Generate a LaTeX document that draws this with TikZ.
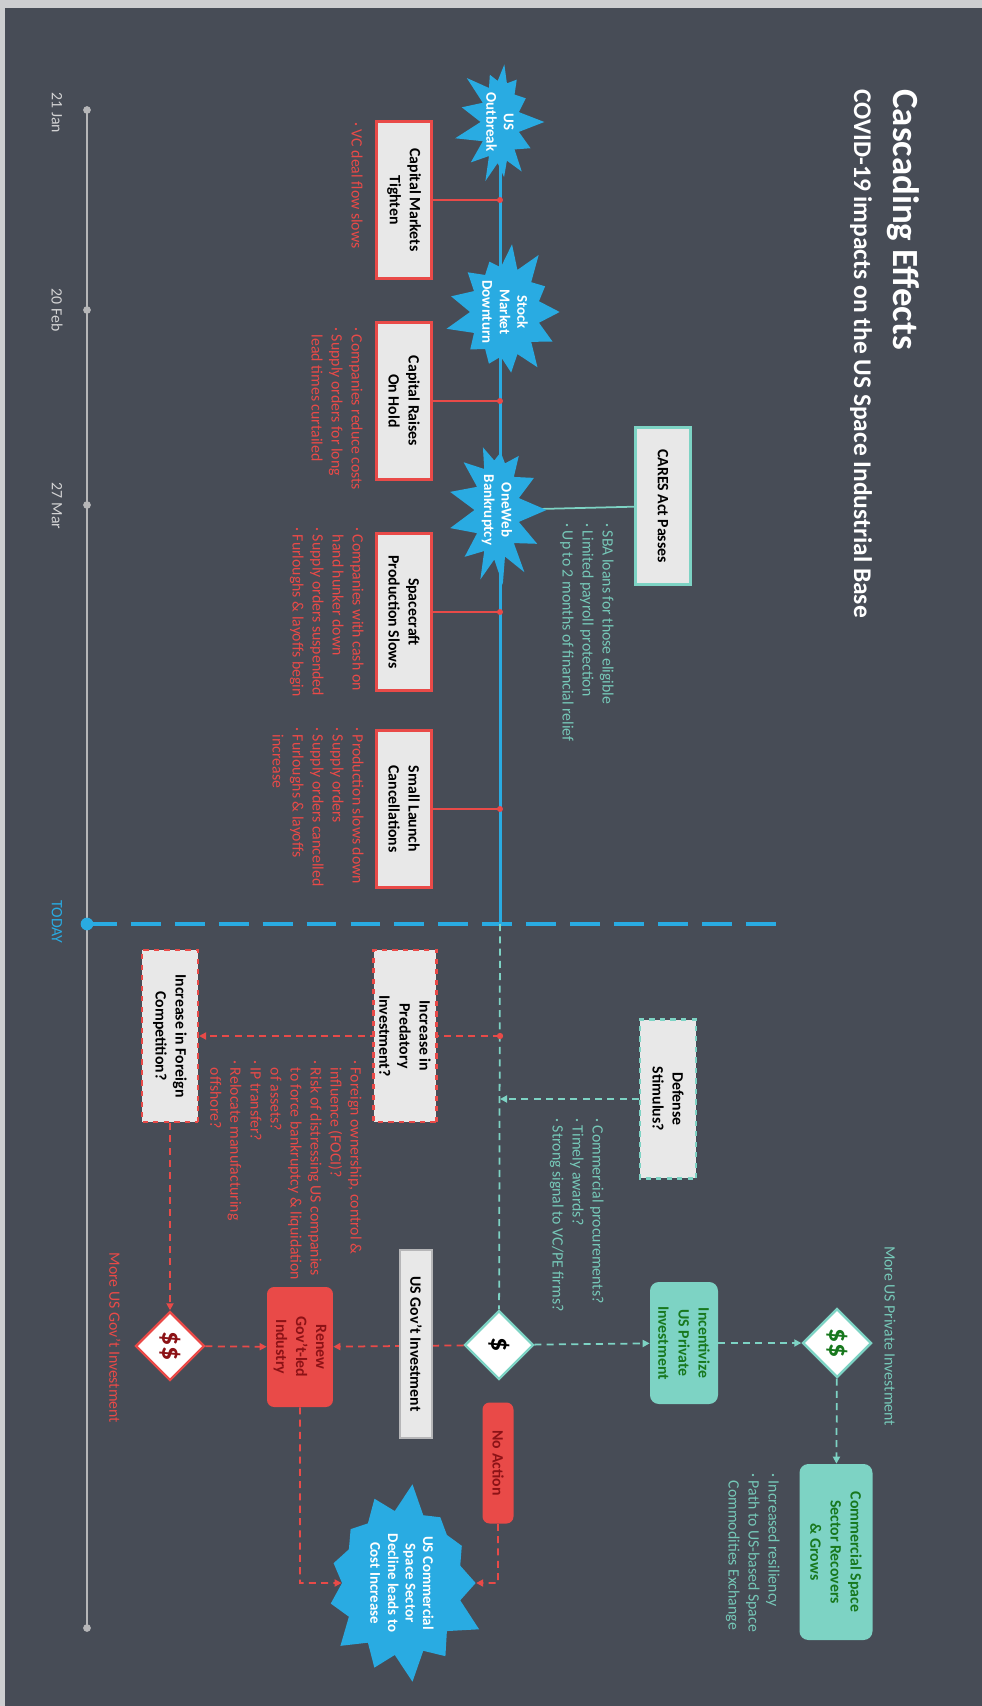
\documentclass[tikz,border=0pt]{standalone}
\usepackage{fontspec}
\setmainfont{Carlito}
\usetikzlibrary{shapes.symbols,shapes.geometric,arrows.meta,backgrounds}
\definecolor{slate}{RGB}{71,76,86}
\definecolor{edge}{RGB}{205,206,208}
\definecolor{skyblue}{RGB}{41,171,226}
\definecolor{alert}{RGB}{233,74,72}
\definecolor{mint}{RGB}{125,211,196}
\definecolor{minttext}{RGB}{118,200,184}
\definecolor{paper}{RGB}{232,232,232}
\definecolor{leaf}{RGB}{24,120,30}
\definecolor{wine}{RGB}{140,18,22}
\definecolor{rail}{RGB}{182,182,184}
\newcommand{\bul}{·\ }
\newcommand{\indt}{\phantom{·\ }}
\begin{document}
\begin{tikzpicture}
        [x=0.02cm, y=0.02cm, rotate=-90, transform shape,
        >={Triangle[length=4pt,width=4pt]},
        event/.style={starburst, fill=skyblue, draw=none, text=white, align=center, inner sep=0pt,
            starburst points=13, starburst point height=0.55cm, font=\fontsize{8.5}{10}\selectfont\bfseries},
        pastbox/.style={rectangle, draw=alert, line width=1.2pt, fill=paper, align=center,
            minimum width=3.14cm, minimum height=1.1cm, font=\fontsize{9}{11.4}\selectfont\bfseries},
        futurebox/.style={pastbox, dashed, minimum width=3.44cm, minimum height=1.12cm},
        redfill/.style={rectangle, rounded corners=4pt, fill=alert, text=wine, align=center,
            font=\fontsize{9}{11.4}\selectfont\bfseries},
        mintfill/.style={rectangle, rounded corners=5pt, fill=mint, text=leaf, align=center,
            font=\fontsize{9}{11.4}\selectfont\bfseries},
        money/.style={diamond, fill=white, line width=1.4pt, minimum size=1.38cm, inner sep=0pt,
            font=\fontsize{16}{16}\selectfont\bfseries},
        note/.style={anchor=north west, inner sep=0pt, align=left, font=\fontsize{9}{11.4}\selectfont},
        datelabel/.style={text=rail!60!white, font=\fontsize{9}{10}\selectfont},
        reddash/.style={alert, line width=1pt, dash pattern=on 4pt off 3pt},
        mintdash/.style={mint, line width=1pt, dash pattern=on 4pt off 3pt}]
        \useasboundingbox (0,0) rectangle (1706,982);

        % headline
        \node[anchor=west, inner sep=0pt, text=white, font=\fontsize{21}{25}\selectfont\bfseries] (title) at (89,903) {Cascading Effects};
        \node[anchor=west, inner sep=0pt, text=white, font=\fontsize{14.5}{17}\selectfont\bfseries] (subtitle) at (89,861) {COVID-19 impacts on the US Space Industrial Base};

        % dates
        \node[datelabel] (jan) at (113,57) {21 Jan};
        \node[datelabel] (feb) at (310,57) {20 Feb};
        \node[datelabel] (mar) at (506,57) {27 Mar};
        \node[datelabel, text=skyblue] (now) at (922,57) {TODAY};
        \coordinate (jan0) at (110,87);
        \coordinate (feb0) at (310,87);
        \coordinate (mar0) at (505,87);
        \coordinate (now0) at (924,87);
        \coordinate (end0) at (1628,87);

        % what happened
        \node[event, random starburst=7, minimum width=2.5cm, minimum height=1.8cm] (outbreak) at (122,500) {US\\Outbreak};
        \node[event, random starburst=21, minimum width=2.9cm, minimum height=2.5cm] (stock) at (312,505) {Stock\\Market\\Downturn};
        \node[event, random starburst=33, minimum width=2.84cm, minimum height=2.0cm] (oneweb) at (510,497) {OneWeb\\Bankruptcy};
        \node[pastbox] (tighten) at (200,404) {Capital Markets\\Tighten};
        \node[pastbox] (hold) at (401,404) {Capital Raises\\On Hold};
        \node[pastbox] (slows) at (612,404) {Spacecraft\\Production Slows};
        \node[pastbox] (cancel) at (809,404) {Small Launch\\Cancellations};
        \node[pastbox, draw=mint] (cares) at (506,663) {CARES Act Passes};
        \node[note, text=alert] (tightennote) at (122,363) {\bul VC deal flow slows};
        \node[note, text=alert] (holdnote) at (327,363) {\bul Companies reduce costs\\\bul Supply orders for long\\\indt lead times curtailed};
        \node[note, text=alert] (slowsnote) at (527,364) {\bul Companies with cash on\\\indt hand hunker down\\\bul Supply orders suspended\\\bul Furloughs \& layoffs begin};
        \node[note, text=alert] (cancelnote) at (727,364) {\bul Production slows down\\\bul Supply orders\\\bul Supply orders cancelled\\\bul Furloughs \& layoffs\\\indt increase};
        \node[note, text=minttext] (caresnote) at (523,614) {\bul SBA loans for those eligible\\\bul Limited payroll protection\\\bul Up to 2 months of financial relief};
        \coordinate (spur1) at (200,500);
        \coordinate (spur2) at (401,500);
        \coordinate (spur3) at (612,500);
        \coordinate (spur4) at (809,500);
        \coordinate (nowmain) at (924,500);
        \coordinate (nowend) at (924,788);

        % what may come
        \node[futurebox, draw=mint, minimum width=3.18cm] (defense) at (1099,668) {Defense\\Stimulus?};
        \node[futurebox] (predatory) at (1036,405) {Increase in\\Predatory\\Investment?};
        \node[futurebox] (foreign) at (1036,170) {Increase in Foreign\\Competition?};
        \node[note, text=alert] (prednote) at (1060,362) {\bul Foreign ownership, control \&\\\indt influence (FOCI)?\\\bul Risk of distressing US companies\\\indt to force bankruptcy \& liquidation\\\indt of assets?\\\bul IP transfer?\\\bul Relocate manufacturing\\\indt offshore?};
        \node[note, text=minttext] (defnote) at (1118,604) {\bul Commercial procurements?\\\bul Timely awards?\\\bul Strong signal to VC/PE firms?};
        \node[money, draw=mint] (onedollar) at (1345,499) {\$};
        \node[money, draw=alert, text=wine] (govdollar) at (1346,170) {\$\$};
        \node[money, draw=mint, text=leaf] (privdollar) at (1343,837) {\$\$};
        \node[pastbox, draw=rail, minimum width=3.76cm, minimum height=0.64cm] (govinv) at (1344,416) {US Gov't Investment};
        \node[redfill, minimum width=2.4cm, minimum height=1.32cm] (renew) at (1347,300) {Renew\\Gov't-led\\Industry};
        \node[redfill, minimum width=2.42cm, minimum height=0.62cm] (noaction) at (1463,498) {No Action};
        \node[mintfill, minimum width=2.44cm, minimum height=1.36cm] (incent) at (1343,684) {Incentivize\\US Private\\Investment};
        \node[mintfill, minimum width=3.52cm, minimum height=1.46cm] (grows) at (1552,836) {Commercial Space\\Sector Recovers\\\& Grows};
        \node[note, text=minttext] (grownote) at (1473,780) {\bul Increased resiliency\\\bul Path to US-based Space\\\indt Commodities Exchange};
        \node[text=minttext, font=\fontsize{9}{10}\selectfont] (moreprivate) at (1336,890) {More US Private Investment};
        \node[text=alert, font=\fontsize{9}{10}\selectfont] (moregov) at (1338,115) {More US Gov't Investment};
        \node[event, random starburst=45, minimum width=4.0cm, minimum height=3.5cm] (decline) at (1583,402) {US Commercial\\Space Sector\\Decline leads to\\Cost Increase};
        \coordinate (predspur) at (1036,500);
        \coordinate (defspur) at (1099,500);
        \coordinate (renewbend) at (1583,300);
        \coordinate (nobend) at (1583,498);

        \begin{pgfonlayer}{background}
        \fill[edge] (0,0) rectangle (1706,982);
        \fill[slate] (8,5) rectangle (1706,982);
        \draw[rail, line width=1.7pt] (jan0) -- (end0);
        \foreach \p in {jan0,feb0,mar0,end0}
            \fill[rail] (\p) circle (2.2pt);
        \draw[skyblue, line width=1.7pt] (outbreak.center) -- (nowmain);
        \draw[skyblue, line width=2.8pt, dash pattern=on 17pt off 8pt] (now0) -- (nowend);
        \fill[skyblue] (now0) circle (3.6pt);
        \draw[mint, line width=1pt] (oneweb.center) -- (cares);
        \foreach \b/\s in {tighten/spur1, hold/spur2, slows/spur3, cancel/spur4} {
            \draw[alert, line width=1pt] (\b) -- (\s);
            \fill[alert] (\s) circle (1.7pt);
        }
        \draw[mintdash] (nowmain) -- (onedollar);
        \draw[reddash, ->] (predspur) -- (foreign);
        \fill[alert] (predspur) circle (1.8pt);
        \draw[mintdash, ->] (defense) -- (defspur);
        \draw[reddash, ->] (foreign) -- (govdollar);
        \draw[reddash, ->] (onedollar) -- (renew);
        \draw[reddash, ->] (govdollar) -- (renew);
        \draw[reddash, ->] (renew) -- (renewbend) -- (decline);
        \draw[reddash, ->] (noaction) -- (nobend) -- (decline);
        \draw[mintdash, ->] (onedollar) -- (incent);
        \draw[mintdash, ->] (incent) -- (privdollar);
        \draw[mintdash, ->] (privdollar) -- (grows);
        \end{pgfonlayer}
    \end{tikzpicture}
\end{document}
